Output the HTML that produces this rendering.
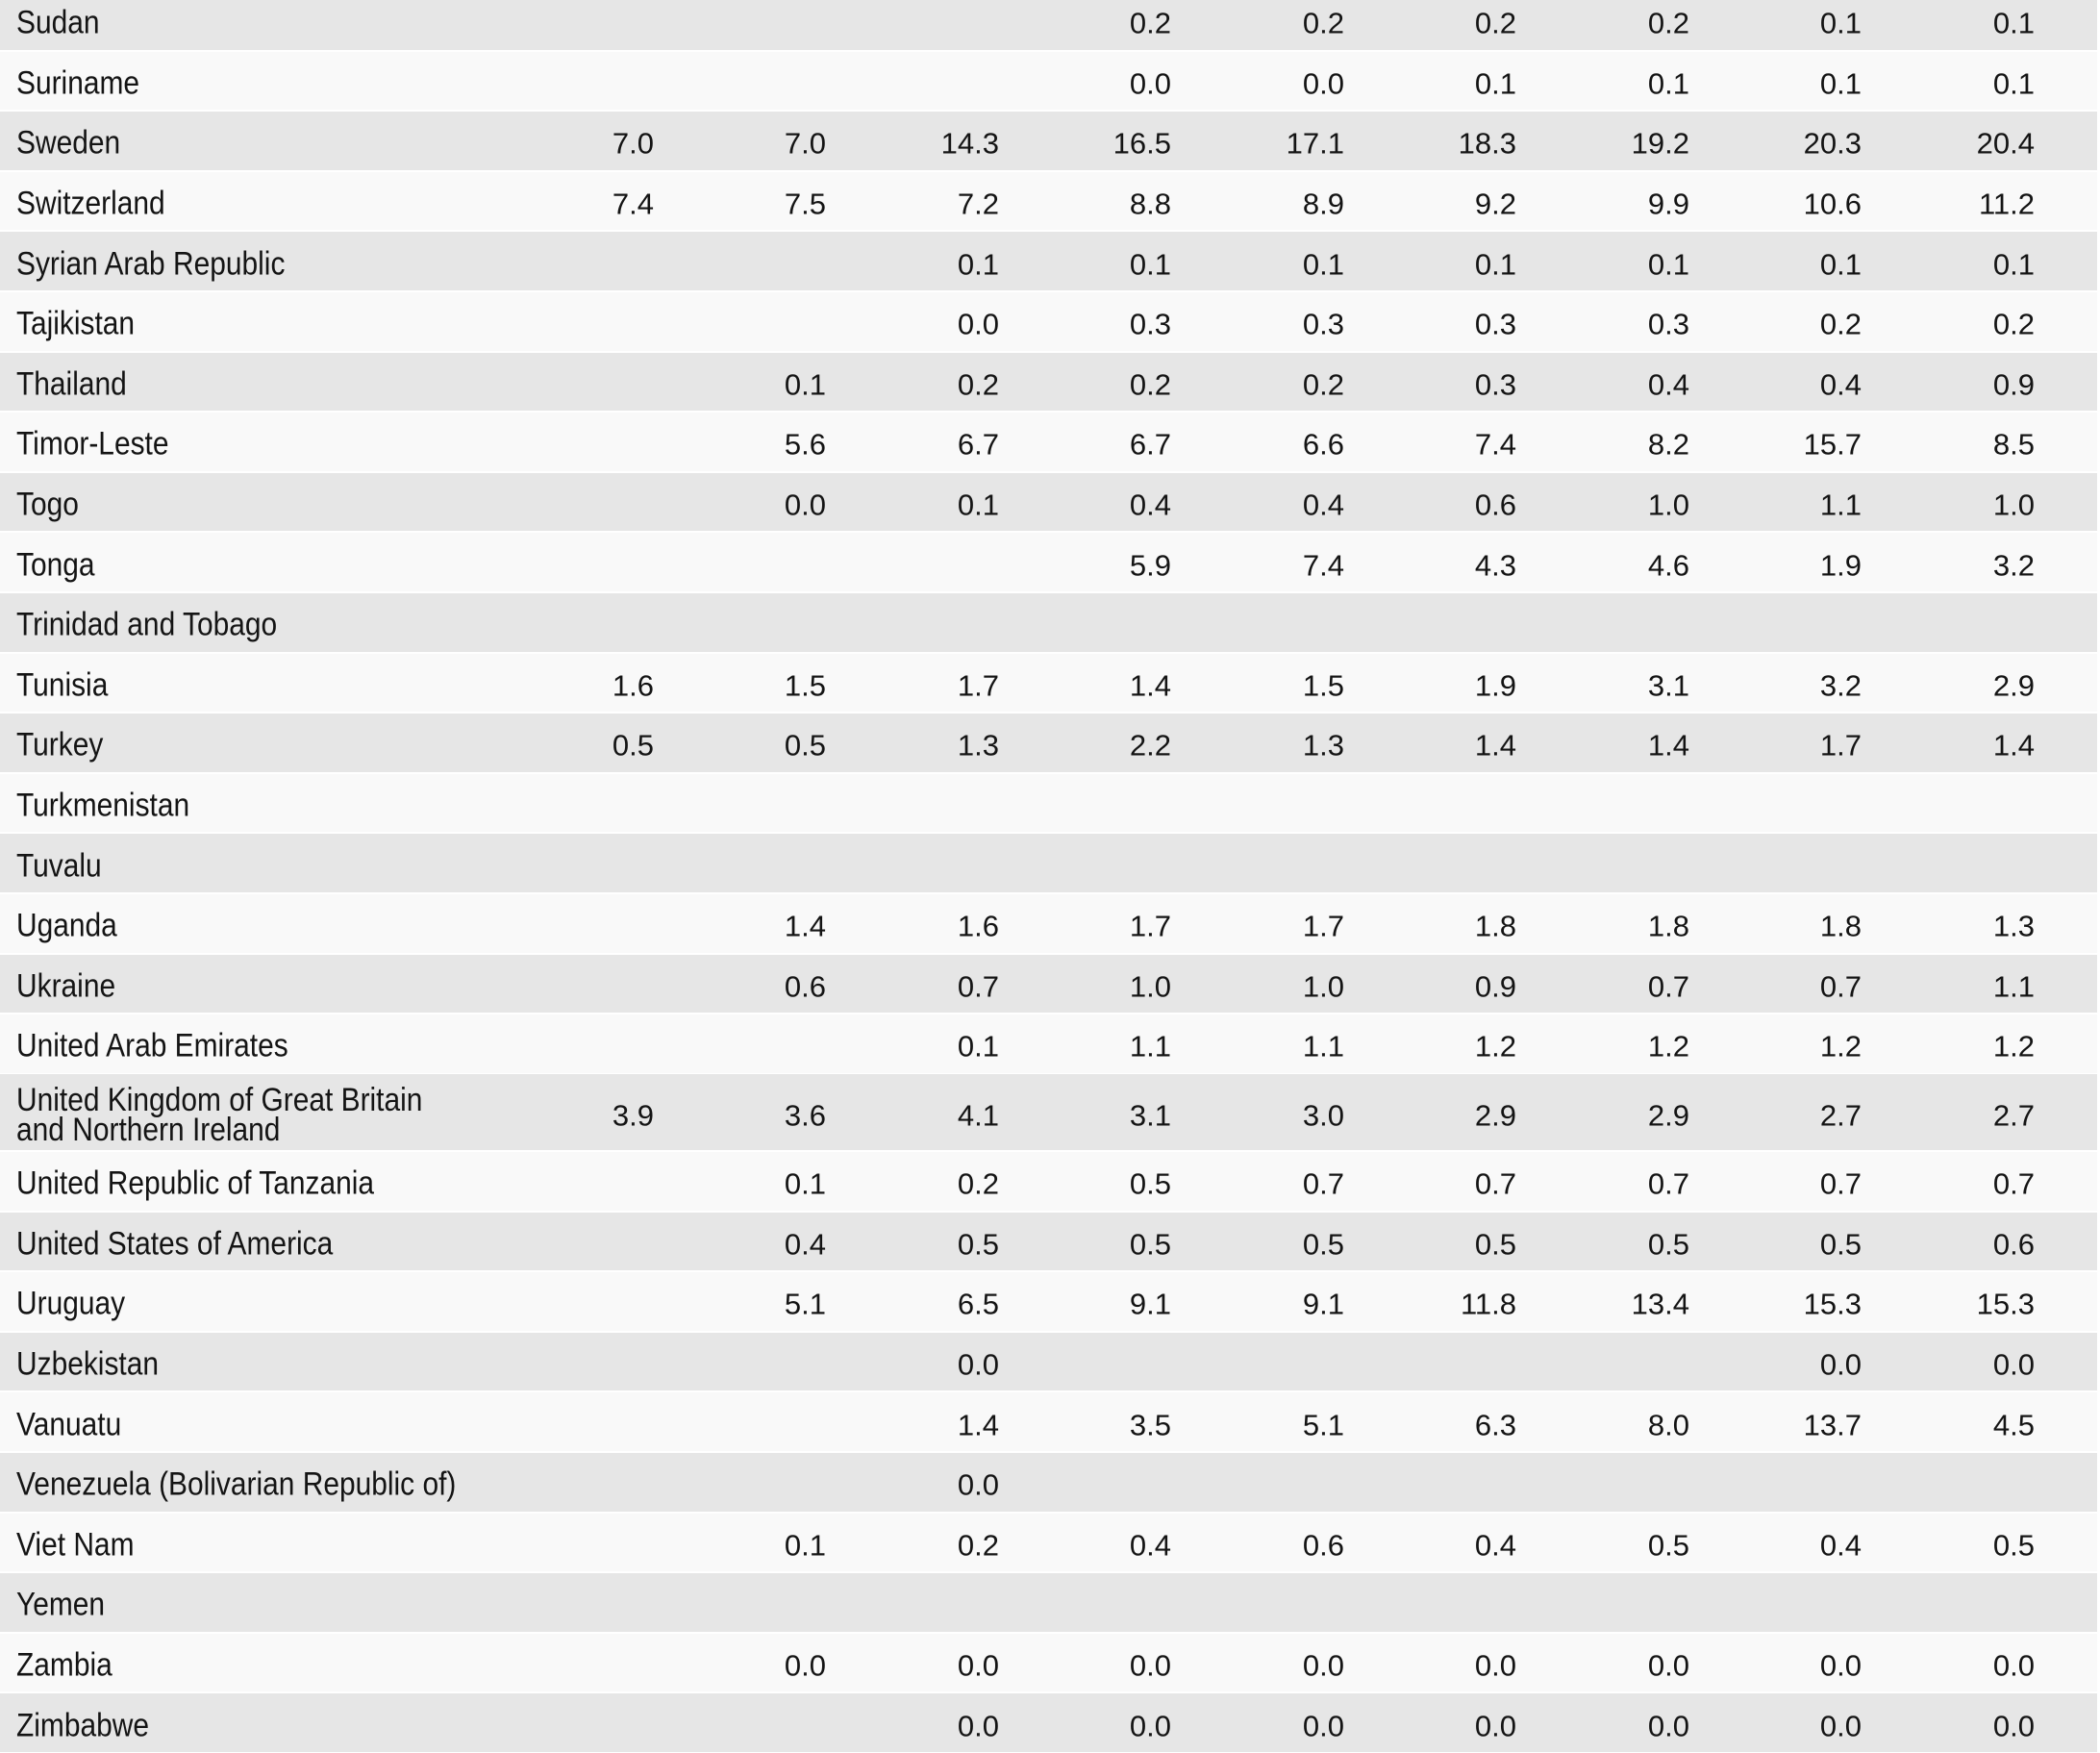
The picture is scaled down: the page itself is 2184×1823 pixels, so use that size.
<!DOCTYPE html>
<html><head><meta charset="utf-8"><style>
html,body{margin:0;padding:0;background:#fff;}
body{width:2184px;height:1823px;position:relative;overflow:hidden;font-family:"Liberation Sans",sans-serif;color:#141414;}
.r{position:absolute;left:0;width:2181px;height:60.6px;}
.g{background:#e6e6e6;}
.w{background:#f9f9f9;}
.c{position:absolute;left:17px;top:50%;font-size:34px;line-height:31px;white-space:nowrap;transform:translateY(calc(-50% + 3px)) scaleX(0.88);transform-origin:left center;}
.r span{position:absolute;top:50%;transform:translateY(calc(-50% + 3px));font-size:31px;line-height:31px;}
.a1{right:1501px}.a2{right:1322px}.a3{right:1142px}.a4{right:963px}.a5{right:783px}.a6{right:604px}.a7{right:424px}.a8{right:245px}.a9{right:65px}
</style></head><body>
<div class="r g" style="top:-9px"><div class="c">Sudan</div><span class="a4">0.2</span><span class="a5">0.2</span><span class="a6">0.2</span><span class="a7">0.2</span><span class="a8">0.1</span><span class="a9">0.1</span></div>
<div class="r w" style="top:53.6px"><div class="c">Suriname</div><span class="a4">0.0</span><span class="a5">0.0</span><span class="a6">0.1</span><span class="a7">0.1</span><span class="a8">0.1</span><span class="a9">0.1</span></div>
<div class="r g" style="top:116.2px"><div class="c">Sweden</div><span class="a1">7.0</span><span class="a2">7.0</span><span class="a3">14.3</span><span class="a4">16.5</span><span class="a5">17.1</span><span class="a6">18.3</span><span class="a7">19.2</span><span class="a8">20.3</span><span class="a9">20.4</span></div>
<div class="r w" style="top:178.8px"><div class="c">Switzerland</div><span class="a1">7.4</span><span class="a2">7.5</span><span class="a3">7.2</span><span class="a4">8.8</span><span class="a5">8.9</span><span class="a6">9.2</span><span class="a7">9.9</span><span class="a8">10.6</span><span class="a9">11.2</span></div>
<div class="r g" style="top:241.4px"><div class="c">Syrian Arab Republic</div><span class="a3">0.1</span><span class="a4">0.1</span><span class="a5">0.1</span><span class="a6">0.1</span><span class="a7">0.1</span><span class="a8">0.1</span><span class="a9">0.1</span></div>
<div class="r w" style="top:304px"><div class="c">Tajikistan</div><span class="a3">0.0</span><span class="a4">0.3</span><span class="a5">0.3</span><span class="a6">0.3</span><span class="a7">0.3</span><span class="a8">0.2</span><span class="a9">0.2</span></div>
<div class="r g" style="top:366.6px"><div class="c">Thailand</div><span class="a2">0.1</span><span class="a3">0.2</span><span class="a4">0.2</span><span class="a5">0.2</span><span class="a6">0.3</span><span class="a7">0.4</span><span class="a8">0.4</span><span class="a9">0.9</span></div>
<div class="r w" style="top:429.2px"><div class="c">Timor-Leste</div><span class="a2">5.6</span><span class="a3">6.7</span><span class="a4">6.7</span><span class="a5">6.6</span><span class="a6">7.4</span><span class="a7">8.2</span><span class="a8">15.7</span><span class="a9">8.5</span></div>
<div class="r g" style="top:491.8px"><div class="c">Togo</div><span class="a2">0.0</span><span class="a3">0.1</span><span class="a4">0.4</span><span class="a5">0.4</span><span class="a6">0.6</span><span class="a7">1.0</span><span class="a8">1.1</span><span class="a9">1.0</span></div>
<div class="r w" style="top:554.4px"><div class="c">Tonga</div><span class="a4">5.9</span><span class="a5">7.4</span><span class="a6">4.3</span><span class="a7">4.6</span><span class="a8">1.9</span><span class="a9">3.2</span></div>
<div class="r g" style="top:617px"><div class="c">Trinidad and Tobago</div></div>
<div class="r w" style="top:679.6px"><div class="c">Tunisia</div><span class="a1">1.6</span><span class="a2">1.5</span><span class="a3">1.7</span><span class="a4">1.4</span><span class="a5">1.5</span><span class="a6">1.9</span><span class="a7">3.1</span><span class="a8">3.2</span><span class="a9">2.9</span></div>
<div class="r g" style="top:742.2px"><div class="c">Turkey</div><span class="a1">0.5</span><span class="a2">0.5</span><span class="a3">1.3</span><span class="a4">2.2</span><span class="a5">1.3</span><span class="a6">1.4</span><span class="a7">1.4</span><span class="a8">1.7</span><span class="a9">1.4</span></div>
<div class="r w" style="top:804.8px"><div class="c">Turkmenistan</div></div>
<div class="r g" style="top:867.4px"><div class="c">Tuvalu</div></div>
<div class="r w" style="top:930px"><div class="c">Uganda</div><span class="a2">1.4</span><span class="a3">1.6</span><span class="a4">1.7</span><span class="a5">1.7</span><span class="a6">1.8</span><span class="a7">1.8</span><span class="a8">1.8</span><span class="a9">1.3</span></div>
<div class="r g" style="top:992.6px"><div class="c">Ukraine</div><span class="a2">0.6</span><span class="a3">0.7</span><span class="a4">1.0</span><span class="a5">1.0</span><span class="a6">0.9</span><span class="a7">0.7</span><span class="a8">0.7</span><span class="a9">1.1</span></div>
<div class="r w" style="top:1055.2px"><div class="c">United Arab Emirates</div><span class="a3">0.1</span><span class="a4">1.1</span><span class="a5">1.1</span><span class="a6">1.2</span><span class="a7">1.2</span><span class="a8">1.2</span><span class="a9">1.2</span></div>
<div class="r g" style="top:1117px;height:79px"><div class="c">United Kingdom of Great Britain<br>and Northern Ireland</div><span class="a1">3.9</span><span class="a2">3.6</span><span class="a3">4.1</span><span class="a4">3.1</span><span class="a5">3.0</span><span class="a6">2.9</span><span class="a7">2.9</span><span class="a8">2.7</span><span class="a9">2.7</span></div>
<div class="r w" style="top:1198px"><div class="c">United Republic of Tanzania</div><span class="a2">0.1</span><span class="a3">0.2</span><span class="a4">0.5</span><span class="a5">0.7</span><span class="a6">0.7</span><span class="a7">0.7</span><span class="a8">0.7</span><span class="a9">0.7</span></div>
<div class="r g" style="top:1260.6px"><div class="c">United States of America</div><span class="a2">0.4</span><span class="a3">0.5</span><span class="a4">0.5</span><span class="a5">0.5</span><span class="a6">0.5</span><span class="a7">0.5</span><span class="a8">0.5</span><span class="a9">0.6</span></div>
<div class="r w" style="top:1323.2px"><div class="c">Uruguay</div><span class="a2">5.1</span><span class="a3">6.5</span><span class="a4">9.1</span><span class="a5">9.1</span><span class="a6">11.8</span><span class="a7">13.4</span><span class="a8">15.3</span><span class="a9">15.3</span></div>
<div class="r g" style="top:1385.8px"><div class="c">Uzbekistan</div><span class="a3">0.0</span><span class="a8">0.0</span><span class="a9">0.0</span></div>
<div class="r w" style="top:1448.4px"><div class="c">Vanuatu</div><span class="a3">1.4</span><span class="a4">3.5</span><span class="a5">5.1</span><span class="a6">6.3</span><span class="a7">8.0</span><span class="a8">13.7</span><span class="a9">4.5</span></div>
<div class="r g" style="top:1511px"><div class="c">Venezuela (Bolivarian Republic of)</div><span class="a3">0.0</span></div>
<div class="r w" style="top:1573.6px"><div class="c">Viet Nam</div><span class="a2">0.1</span><span class="a3">0.2</span><span class="a4">0.4</span><span class="a5">0.6</span><span class="a6">0.4</span><span class="a7">0.5</span><span class="a8">0.4</span><span class="a9">0.5</span></div>
<div class="r g" style="top:1636.2px"><div class="c">Yemen</div></div>
<div class="r w" style="top:1698.8px"><div class="c">Zambia</div><span class="a2">0.0</span><span class="a3">0.0</span><span class="a4">0.0</span><span class="a5">0.0</span><span class="a6">0.0</span><span class="a7">0.0</span><span class="a8">0.0</span><span class="a9">0.0</span></div>
<div class="r g" style="top:1761.4px"><div class="c">Zimbabwe</div><span class="a3">0.0</span><span class="a4">0.0</span><span class="a5">0.0</span><span class="a6">0.0</span><span class="a7">0.0</span><span class="a8">0.0</span><span class="a9">0.0</span></div>
</body></html>
